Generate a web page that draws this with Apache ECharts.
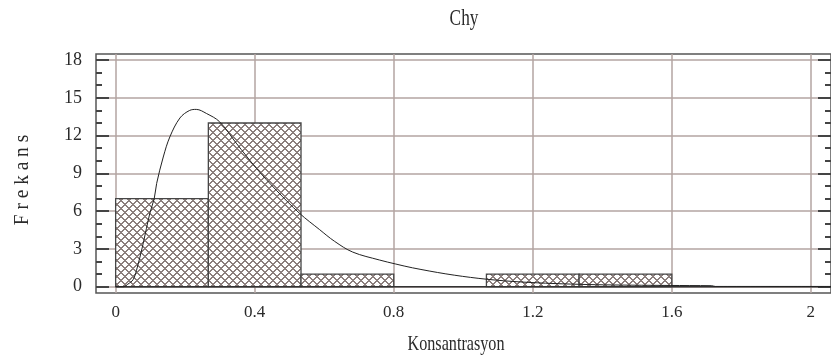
<!DOCTYPE html>
<html>
<head>
<meta charset="utf-8">
<script src="https://cdn.jsdelivr.net/npm/echarts@6/dist/echarts.min.js"></script>
<style>
  html, body { margin: 0; padding: 0; background: #fff; }
  #chart { width: 831px; height: 362px; }
</style>
</head>
<body>
<div id="chart"></div>
<script>
// Histogram bins of concentration and their frequencies
const binLower = [0, 0.2667, 0.5333, 0.8, 1.0667, 1.3333];
const binUpper = [0.2667, 0.5333, 0.8, 1.0667, 1.3333, 1.6];
const binCounts = [7, 13, 1, 0, 1, 1];

// Fitted density curve (scaled to frequency)
const curveX = [0, 0.022, 0.035, 0.05, 0.06, 0.079, 0.098, 0.111, 0.118, 0.137, 0.156, 0.185,
  0.213, 0.232, 0.261, 0.299, 0.347, 0.405, 0.462, 0.529, 0.586, 0.63, 0.682, 0.759, 0.806,
  0.854, 0.95, 1.045, 1.141, 1.237, 1.332, 1.428, 1.543, 1.65, 1.715, 1.725, 2.06];
const curveY = [0, 0, 0.2, 0.55, 1.3, 3.4, 5.8, 7.0, 8.2, 10.3, 11.9, 13.4,
  14.0, 14.08, 13.76, 13.1, 11.4, 9.4, 7.67, 5.83, 4.55, 3.6, 2.75, 2.12, 1.8,
  1.5, 1.02, 0.66, 0.42, 0.28, 0.19, 0.14, 0.11, 0.09, 0.08, 0.02, 0.02];

// Axis ticks
const xTickValues = [0, 0.4, 0.8, 1.2, 1.6, 2];
const xTickLabels = ['0', '0.4', '0.8', '1.2', '1.6', '2'];
const yMajorTicks = [0, 3, 6, 9, 12, 15, 18];
const yMinorTicks = [0, 1, 2, 3, 4, 5, 6, 7, 8, 9, 10, 11, 12, 13, 14, 15, 16, 17, 18];

const titleText = 'Chy';
const xName = 'Konsantrasyon';
const yName = 'F r e k a n s';

// axis extents (frame reaches slightly past the labelled range)
const X_MIN = -0.0565, X_MAX = 2.058;
const Y_MIN = -0.5, Y_MAX = 18.48;

// crisp cross-hatch fill, drawn pixel by pixel
function makeHatch() {
  const n = 8;
  const c = document.createElement('canvas');
  c.width = n; c.height = n;
  const g = c.getContext('2d');
  g.fillStyle = '#ffffff';
  g.fillRect(0, 0, n, n);
  g.fillStyle = '#8c7f7d';
  for (let y = 0; y < n; y++) {
    for (let x = 0; x < n; x++) {
      const d1 = ((x - y) % n + n) % n;
      const d2 = (x + y) % n;
      if (d1 <= 1 || d2 <= 1) g.fillRect(x, y, 1, 1);
    }
  }
  return c;
}
const hatch = { image: makeHatch(), repeat: 'repeat' };

const bins = binLower.map((lo, i) => [lo, binUpper[i], binCounts[i]]);
const curve = curveX.map((x, i) => [x, curveY[i]]);

const gridColor = '#b3a4a2';
const frameColor = '#555555';
const labelFont = 'Liberation Serif';

const chart = echarts.init(document.getElementById('chart'), null, { renderer: 'canvas' });

function yAxisDef(pos, ticks, len, withLabels, withSplit) {
  return {
    type: 'value', position: pos, min: Y_MIN, max: Y_MAX, offset: 0,
    axisLine: { show: false, onZero: false },
    axisTick: { show: true, inside: true, length: len, customValues: ticks,
      lineStyle: { color: '#444', width: 2 } },
    axisLabel: withLabels ? { show: true, customValues: yMajorTicks, margin: 14,
      fontFamily: labelFont, fontSize: 18, color: '#2a2a2a' } : { show: false },
    splitLine: { show: withSplit, lineStyle: { color: gridColor, width: 1.5 } }
  };
}

chart.setOption({
  animation: false,
  backgroundColor: '#ffffff',
  grid: { left: 96, top: 54, width: 737, height: 239, show: true,
    borderColor: frameColor, borderWidth: 1.5, backgroundColor: 'transparent' },
  xAxis: {
    type: 'value', min: X_MIN, max: X_MAX,
    axisLine: { show: false, onZero: false },
    axisTick: { show: false, customValues: xTickValues },
    axisLabel: { show: true, customValues: xTickValues, margin: 11,
      fontFamily: labelFont, fontSize: 17, color: '#2a2a2a',
      formatter: v => xTickLabels[xTickValues.indexOf(Math.round(v * 10) / 10)] },
    splitLine: { show: true, lineStyle: { color: gridColor, width: 1.5 } }
  },
  yAxis: [
    yAxisDef('left', yMajorTicks, 13, true, true),
    yAxisDef('left', yMinorTicks, 6, false, false),
    yAxisDef('right', yMajorTicks, 13, false, false),
    yAxisDef('right', yMinorTicks, 6, false, false)
  ],
  graphic: [
    { type: 'text', x: 464, y: 19, scaleX: 0.75,
      style: { text: titleText, font: '23px "Liberation Serif"', fill: '#2a2a2a',
        textAlign: 'center', textVerticalAlign: 'middle' } },
    { type: 'text', x: 456, y: 344, scaleX: 0.735,
      style: { text: xName, font: '22px "Liberation Serif"', fill: '#2a2a2a',
        textAlign: 'center', textVerticalAlign: 'middle' } },
    { type: 'text', x: 22, y: 180, rotation: Math.PI / 2, scaleX: 0.88,
      style: { text: yName, font: '22px "Liberation Serif"', fill: '#2a2a2a',
        textAlign: 'center', textVerticalAlign: 'middle' } }
  ],
  series: [
    {
      type: 'custom', name: 'Frekans', yAxisIndex: 0,
      data: bins,
      encode: { x: [0, 1], y: 2 },
      renderItem: function (params, api) {
        const h = api.value(2);
        if (!h) return null;
        const p0 = api.coord([api.value(0), 0]);
        const p1 = api.coord([api.value(1), h]);
        return {
          type: 'rect',
          shape: { x: p0[0], y: p1[1], width: p1[0] - p0[0], height: p0[1] - p1[1] },
          style: { fill: hatch, stroke: '#474747', lineWidth: 1.3 }
        };
      },
      z: 2
    },
    {
      type: 'line', name: 'baseline', yAxisIndex: 0,
      data: [[0, 0], [X_MAX, 0]],
      symbol: 'none', lineStyle: { color: '#333', width: 1.5 }, z: 3
    },
    {
      type: 'line', name: 'curve', yAxisIndex: 0,
      data: curve, smooth: 0.35,
      symbol: 'none', lineStyle: { color: '#222', width: 1 }, z: 4
    }
  ]
});
</script>
</body>
</html>
